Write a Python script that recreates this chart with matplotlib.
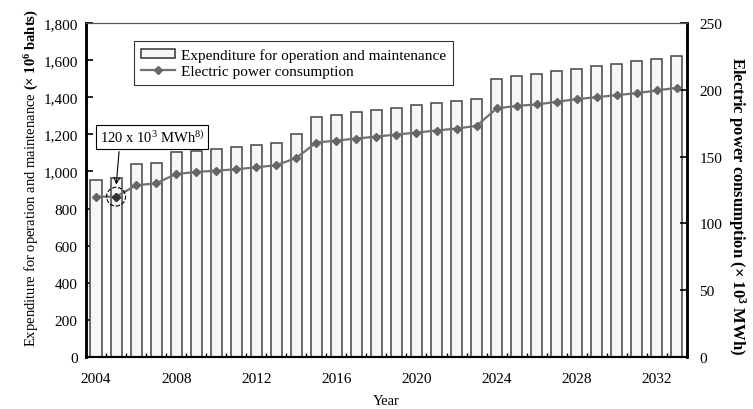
import matplotlib
matplotlib.use('Agg')
import matplotlib.pyplot as plt
from matplotlib.patches import Ellipse, Patch
from matplotlib.lines import Line2D
from matplotlib.ticker import FuncFormatter, MultipleLocator

plt.rcParams['font.family'] = ['Liberation Serif', 'DejaVu Serif']
plt.rcParams['mathtext.fontset'] = 'custom'
plt.rcParams['mathtext.rm'] = 'Liberation Serif'
plt.rcParams['mathtext.it'] = 'Liberation Serif:italic'
plt.rcParams['mathtext.bf'] = 'Liberation Serif:bold'

years = list(range(2004, 2034))
# expenditure for operation and maintenance (10^6 bahts)
expenditure = [955, 962, 1040, 1047, 1103, 1110, 1122, 1134, 1143, 1154,
               1203, 1295, 1306, 1318, 1330, 1342, 1356, 1368, 1379, 1392,
               1498, 1513, 1526, 1541, 1551, 1566, 1577, 1595, 1607, 1620]
# electric power consumption (10^3 MWh)
consumption = [120, 120, 128.5, 130, 137, 138.5, 139.5, 140.5, 142, 143.5,
               149, 160.5, 162, 163.5, 165, 166.5, 168, 169.5, 171, 173,
               186, 188, 189, 191, 193, 194.5, 196, 197.5, 199.5, 201.5]
year_ticks = [2004, 2008, 2012, 2016, 2020, 2024, 2028, 2032]

fig = plt.figure(figsize=(7.53, 4.10), dpi=100)
ax = fig.add_axes([0.1142, 0.1268, 0.798, 0.8147])
ax2 = ax.twinx()

ax.bar(years, expenditure, width=0.55, color='#f6f6f6', edgecolor='#444444', linewidth=1.1, zorder=2)
ax2.plot(years, consumption, color='#707070', lw=1.6, marker='D', markersize=4.5,
         markerfacecolor='#666666', markeredgecolor='#666666', zorder=3)
ax2.plot([2005], [120], marker='D', markersize=4.5, color='#333333', zorder=4)

ax.set_xlim(2003.5, 2033.5)
ax.set_ylim(0, 1800)
ax2.set_ylim(0, 250)
ax.yaxis.set_major_locator(MultipleLocator(200))
ax2.yaxis.set_major_locator(MultipleLocator(50))
ax.yaxis.set_major_formatter(FuncFormatter(lambda v, p: f'{int(v):,}'))

ax.set_xticks(year_ticks)
ax.set_xticks([y + 0.5 for y in years[:-1]], minor=True)
ax.tick_params(axis='x', which='major', length=0, pad=11, labelsize=11)
ax.tick_params(axis='x', which='minor', direction='in', length=3, width=1)
ax.tick_params(axis='y', direction='in', length=5, width=1.2, pad=6, labelsize=11)
ax2.tick_params(axis='y', direction='in', length=5, width=1.2, pad=9, labelsize=11)

for a in (ax, ax2):
    a.spines['left'].set_linewidth(1.8)
    a.spines['right'].set_linewidth(1.8)
    a.spines['bottom'].set_linewidth(1.5)
    a.spines['top'].set_linewidth(0.8)
    a.spines['top'].set_color('#555555')

ax.set_xlabel('Year', fontsize=10.5, labelpad=6)
ax.set_ylabel('Expenditure for operation and maintenance $\\mathbf{(×\\ 10^6\\ bahts)}$',
              fontsize=10.5, va='center')
ax.yaxis.set_label_coords(-0.09, 0.54)
ax2.set_ylabel('Electric power consumption (× $\\mathbf{10^3}$ MWh)', fontsize=12,
               fontweight='bold', rotation=270, va='center')
ax2.yaxis.set_label_coords(1.083, 0.455)

# annotation for 2005 value
ax2.add_patch(Ellipse((2005, 120), 0.95, 14, fill=False, ls='--', lw=0.8, color='black', zorder=5))
ax2.annotate('120 x 10$^3$ MWh$^{8)}$', xy=(2005, 127), xytext=(2006.8, 165),
             fontsize=10.5, ha='center', va='center',
             bbox=dict(boxstyle='square,pad=0.25', fc='white', ec='black', lw=0.8),
             arrowprops=dict(arrowstyle='->', color='black', lw=0.8,
                             relpos=(0.19, 0.0)), zorder=6)

handles = [Patch(facecolor='#f6f6f6', edgecolor='#333333', linewidth=1.1),
           Line2D([], [], color='#707070', lw=1.6, marker='D', markersize=4.5,
                  markerfacecolor='#666666', markeredgecolor='#666666')]
leg = ax2.legend(handles, ['Expenditure for operation and maintenance', 'Electric power consumption'],
                 loc='upper left', bbox_to_anchor=(0.08, 0.946), borderaxespad=0,
                 fontsize=11, frameon=True,
                 fancybox=False, edgecolor='black', handlelength=2.2, handleheight=0.5,
                 borderpad=0.45, labelspacing=0.2, handletextpad=0.4)
leg.get_frame().set_linewidth(0.8)

fig.savefig('out.png', dpi=100)
